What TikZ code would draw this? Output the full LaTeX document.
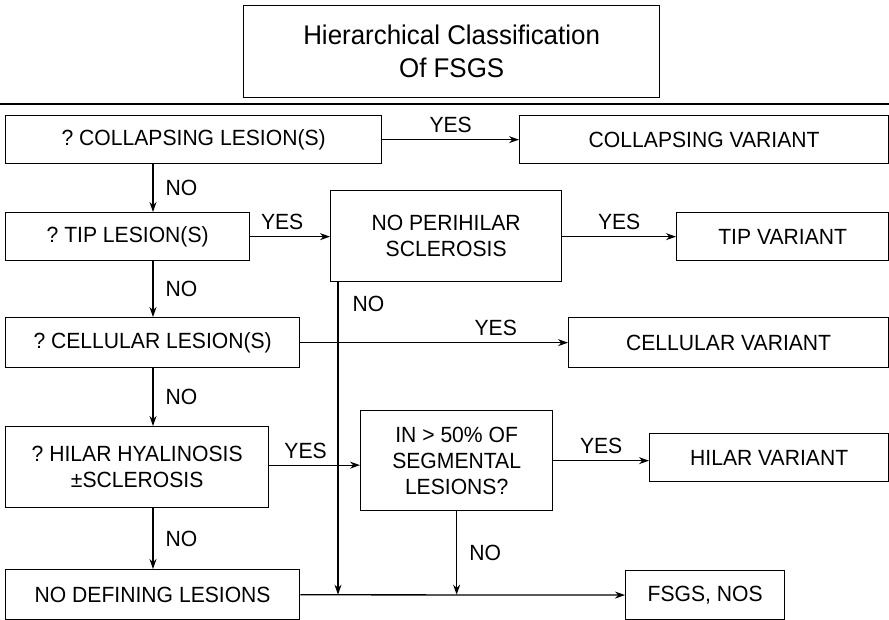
\documentclass[tikz,border=0pt]{standalone}
\usepackage{fontspec}
\setmainfont{Liberation Sans}[FakeStretch=0.96]
\usepackage{tikz}
\usetikzlibrary{arrows.meta,positioning}
\frenchspacing

\begin{document}
\begin{tikzpicture}[x=1pt,y=-1pt,>={Stealth[length=10pt,width=7pt]},line width=1.3pt,
 box/.style={draw,anchor=north west,align=center,inner sep=0pt,font=\fontsize{22}{26}\selectfont},
 lbl/.style={font=\fontsize{22}{26}\selectfont,inner sep=2pt}]
\useasboundingbox (0,0) rectangle (889,620);
\node[box,minimum width=416pt,minimum height=92pt,font=\fontsize{27}{33}\selectfont] (title) at (243,5) {Hierarchical Classification\\Of FSGS};
\draw (0,104) -- (889,104);
% left column of questions
\node[box,minimum width=376pt,minimum height=48pt] (collapse) at (5,115) {? COLLAPSING LESION(S)};
\node[box,minimum width=244pt,minimum height=48pt] (tip) at (5,212) {? TIP LESION(S)};
\node[box,minimum width=294pt,minimum height=50pt] (cellular) at (5,317) {? CELLULAR LESION(S)};
\node[box,minimum width=263pt,minimum height=81pt] (hilar) at (5,426) {? HILAR HYALINOSIS\\±SCLEROSIS};
\node[box,minimum width=294pt,minimum height=50pt] (nodef) at (5,569) {NO DEFINING LESIONS};
% middle checks
\node[box,minimum width=231pt,minimum height=91pt] (perihilar) at (330,190) {NO PERIHILAR\\SCLEROSIS};
\node[box,minimum width=192pt,minimum height=100pt] (fifty) at (360,410) {IN > 50\% OF\\SEGMENTAL\\LESIONS?};
% variants
\node[box,minimum width=369pt,minimum height=48pt] (collvar) at (519,115) {COLLAPSING VARIANT};
\node[box,minimum width=212pt,minimum height=48pt] (tipvar) at (676,212) {TIP VARIANT};
\node[box,minimum width=320pt,minimum height=50pt] (cellvar) at (568,317) {CELLULAR VARIANT};
\node[box,minimum width=239pt,minimum height=48pt] (hilarvar) at (649,433) {HILAR VARIANT};
\node[box,minimum width=159pt,minimum height=49pt] (nos) at (625,570) {FSGS, NOS};
\coordinate (spine) at (153,0);
\coordinate (drop) at (338,0);
% yes branches
\draw[->] (collapse) -- node[lbl,above=4pt] {YES} (collvar);
\draw[->] (tip) -- node[lbl,above=4pt,pos=0.4] {YES} (tip -| perihilar.west);
\draw[->] (tip -| perihilar.east) -- node[lbl,above=4pt] {YES} (tipvar);
\draw[->] (cellular) -- node[lbl,above=4pt,pos=0.73] {YES} (cellvar);
\draw[->] ([yshift=2pt]hilar.east) -- node[lbl,above=4pt,pos=0.4] {YES} ([yshift=2pt]hilar.east -| fifty.west);
\draw[->] (fifty) -- node[lbl,above=4pt] {YES} (fifty -| hilarvar.west);
% no branches
\draw[->] (collapse.south -| spine) -- node[lbl,right=10pt] {NO} (tip.north -| spine);
\draw[->] (tip.south -| spine) -- node[lbl,right=10pt] {NO} (cellular.north -| spine);
\draw[->] (cellular.south -| spine) -- node[lbl,right=10pt] {NO} (hilar.north -| spine);
\draw[->] (hilar.south -| spine) -- node[lbl,right=10pt] {NO} (nodef.north -| spine);
\draw[->] (perihilar.south -| drop) -- node[lbl,right=12pt,pos=0.07] {NO} (nodef -| drop);
\draw[->] (fifty.south) -- node[lbl,right=10pt] {NO} (fifty.south |- nodef);
\draw[->] (nodef) -- (nos);
\end{tikzpicture}
\end{document}
